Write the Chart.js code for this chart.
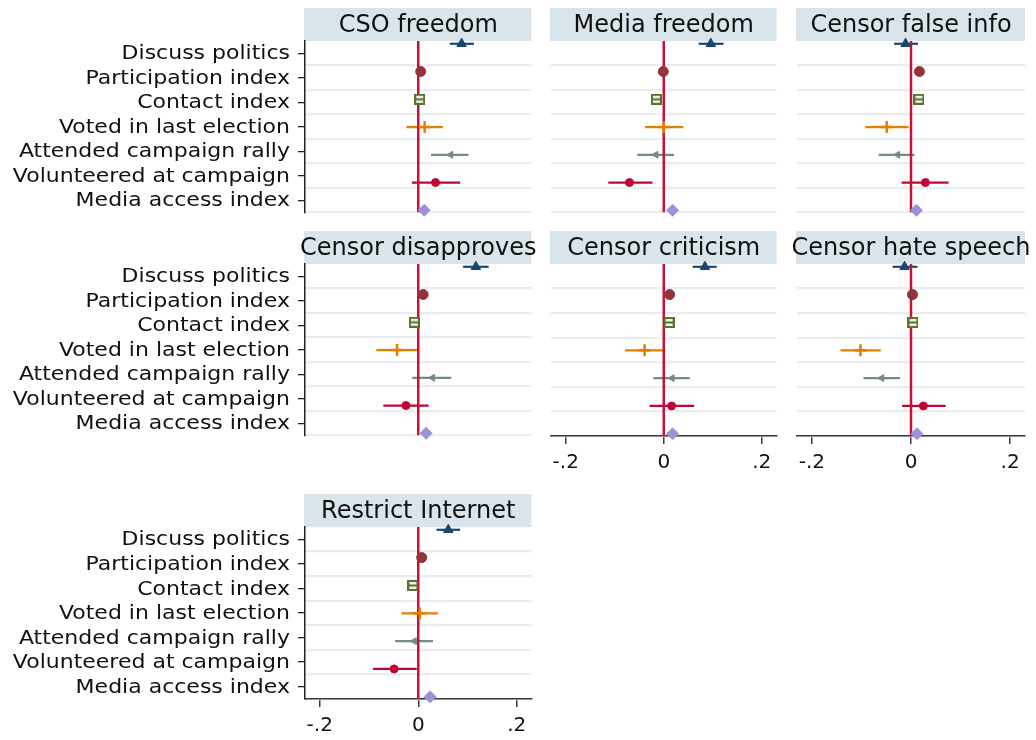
<!DOCTYPE html>
<html>
<head>
<meta charset="utf-8">
<script src="https://cdn.jsdelivr.net/npm/chart.js@4.4.1/dist/chart.umd.min.js"></script>
<style>
  html, body { margin: 0; padding: 0; background: #fff; }
  #wrap { position: relative; width: 1036px; height: 740px; overflow: hidden; background: #fff; }
  #wrap canvas { position: absolute; }
</style>
</head>
<body>
<div id="wrap"></div>
<script>
// ---- data ---------------------------------------------------------------
const categories = [
  'Discuss politics', 'Participation index', 'Contact index',
  'Voted in last election', 'Attended campaign rally',
  'Volunteered at campaign', 'Media access index'
];
const panelTitles = [
  'CSO freedom', 'Media freedom', 'Censor false info',
  'Censor disapproves', 'Censor criticism', 'Censor hate speech',
  'Restrict Internet'
];
const xTickValues = [-0.2, 0, 0.2];
const xTickLabels = ['-.2', '0', '.2'];

// coefficient estimates with lower / upper confidence bounds (order = categories)
const csoB   = [0.088, 0.005, 0.003, 0.013, 0.066, 0.035, 0.012];
const csoLo  = [0.064, 0.001, -0.001, -0.024, 0.026, -0.013, 0.007];
const csoHi  = [0.113, 0.009, 0.007, 0.050, 0.102, 0.085, 0.017];

const mediaB  = [0.096, -0.001, -0.015, 0.000, -0.016, -0.070, 0.018];
const mediaLo = [0.071, -0.005, -0.019, -0.038, -0.054, -0.113, 0.013];
const mediaHi = [0.122, 0.003, -0.011, 0.040, 0.021, -0.023, 0.023];

const falseB  = [-0.011, 0.017, 0.016, -0.049, -0.027, 0.029, 0.011];
const falseLo = [-0.034, 0.013, 0.012, -0.092, -0.065, -0.019, 0.006];
const falseHi = [0.014, 0.021, 0.020, -0.005, 0.007, 0.076, 0.016];

const disapB  = [0.117, 0.010, -0.008, -0.043, 0.029, -0.025, 0.016];
const disapLo = [0.091, 0.006, -0.012, -0.085, -0.012, -0.071, 0.011];
const disapHi = [0.143, 0.014, -0.004, -0.001, 0.067, 0.021, 0.021];

const critB  = [0.084, 0.012, 0.011, -0.039, 0.017, 0.016, 0.018];
const critLo = [0.059, 0.008, 0.007, -0.079, -0.021, -0.029, 0.013];
const critHi = [0.108, 0.016, 0.015, 0.001, 0.053, 0.062, 0.023];

const hateB  = [-0.013, 0.003, 0.004, -0.102, -0.059, 0.025, 0.012];
const hateLo = [-0.037, -0.001, 0.000, -0.142, -0.096, -0.018, 0.007];
const hateHi = [0.013, 0.007, 0.008, -0.061, -0.022, 0.070, 0.017];

const netB  = [0.061, 0.007, -0.011, 0.003, -0.008, -0.049, 0.024];
const netLo = [0.037, 0.003, -0.015, -0.034, -0.047, -0.092, 0.019];
const netHi = [0.085, 0.011, -0.007, 0.040, 0.030, -0.003, 0.029];

// ---- styling ------------------------------------------------------------
const FONT = '"DejaVu Sans", "Liberation Sans", sans-serif';
const seriesColors = ['#1a476f', '#90353b', '#55752f', '#e37e00', '#6e8e84', '#c10534', '#9b93d8'];
const zeroColor = '#c8103a';
const gridColor = '#e6eef0';
const titleFill = '#d9e5eb';
const axisColor = '#3a3a3a';

// hollow square with a bar through it, used for the contact index marker
function squareGlyph(color) {
  const c = document.createElement('canvas');
  c.width = 11; c.height = 11;
  const g = c.getContext('2d');
  g.fillStyle = '#eef3e8';
  g.fillRect(1, 1, 9, 9);
  g.strokeStyle = color;
  g.lineWidth = 2;
  g.strokeRect(1, 1, 9, 9);
  g.beginPath();
  g.moveTo(2, 5.5); g.lineTo(9, 5.5);
  g.stroke();
  return c;
}

const markerStyles = ['triangle', 'circle', squareGlyph(seriesColors[2]), 'cross', 'triangle', 'circle', 'rectRot'];
const markerRadii  = [5.5, 5, 5, 6, 4, 4, 6];
const markerRot    = [0, 0, 0, 0, -90, 0, 0];
const markerBorder = [1, 1, 1, 2.5, 1, 1, 1];

const yMin = 0.9, yMax = 7.08;      // coefficient rows 1..7 (top to bottom)
const xMin = -0.23, xMax = 0.23;
const TITLE_H = 33, PLOT_H = 172, AXIS_H = 46, LABEL_W = 305;

// panel placement on the page
const panels = [
  { title: panelTitles[0], b: csoB,   lo: csoLo,   hi: csoHi,   left: 0,   top: 8,   width: 540, padL: 0,  padR: 8,  labels: true,  axis: false },
  { title: panelTitles[1], b: mediaB, lo: mediaLo, hi: mediaHi, left: 540, top: 8,   width: 245, padL: 11, padR: 7,  labels: false, axis: false },
  { title: panelTitles[2], b: falseB, lo: falseLo, hi: falseHi, left: 785, top: 8,   width: 251, padL: 12, padR: 11, labels: false, axis: false },
  { title: panelTitles[3], b: disapB, lo: disapLo, hi: disapHi, left: 0,   top: 231, width: 540, padL: 0,  padR: 8,  labels: true,  axis: false },
  { title: panelTitles[4], b: critB,  lo: critLo,  hi: critHi,  left: 540, top: 231, width: 245, padL: 11, padR: 7,  labels: false, axis: true },
  { title: panelTitles[5], b: hateB,  lo: hateLo,  hi: hateHi,  left: 785, top: 231, width: 251, padL: 12, padR: 11, labels: false, axis: true },
  { title: panelTitles[6], b: netB,   lo: netLo,   hi: netHi,   left: 0,   top: 494, width: 540, padL: 0,  padR: 8,  labels: true,  axis: true }
];

// title strip above each plot region plus the stretched row labels
const panelDecor = {
  id: 'panelDecor',
  beforeDraw(chart, args, opts) {
    const a = chart.chartArea, ctx = chart.ctx;
    ctx.save();
    ctx.fillStyle = titleFill;
    ctx.fillRect(a.left - 1, a.top - TITLE_H, a.right - a.left + 1, TITLE_H);
    ctx.fillStyle = '#111';
    ctx.font = '24px ' + FONT;
    ctx.textAlign = 'center';
    ctx.textBaseline = 'middle';
    ctx.fillText(opts.title, (a.left + a.right) / 2, a.top - TITLE_H / 2 + 1);
    ctx.restore();
  },
  afterDraw(chart, args, opts) {
    if (!opts.labels) return;
    const s = chart.scales.yl, ctx = chart.ctx;
    ctx.save();
    ctx.fillStyle = '#111';
    ctx.font = '20px ' + FONT;
    ctx.textAlign = 'right';
    ctx.textBaseline = 'middle';
    categories.forEach((lab, i) => {
      ctx.save();
      ctx.translate(s.right - 15, s.getPixelForTick(i) + 1);
      ctx.scale(1.1, 1);
      ctx.fillText(lab, 0, 0);
      ctx.restore();
    });
    ctx.restore();
  }
};

const wrap = document.getElementById('wrap');

panels.forEach(p => {
  const h = TITLE_H + PLOT_H + (p.axis ? AXIS_H : 8);
  const cv = document.createElement('canvas');
  cv.width = p.width; cv.height = h;
  cv.style.left = p.left + 'px';
  cv.style.top = p.top + 'px';
  cv.style.width = p.width + 'px';
  cv.style.height = h + 'px';
  wrap.appendChild(cv);

  const datasets = [];
  // confidence intervals
  categories.forEach((c, i) => {
    datasets.push({
      type: 'scatter', showLine: true,
      data: [{ x: p.lo[i], y: i + 1 }, { x: p.hi[i], y: i + 1 }],
      borderColor: seriesColors[i], borderWidth: 2.2,
      pointRadius: 0, order: 10, clip: false
    });
  });
  // reference line at zero
  datasets.push({
    type: 'scatter', showLine: true,
    data: [{ x: 0, y: yMin }, { x: 0, y: yMax }],
    borderColor: zeroColor, borderWidth: 2.5, pointRadius: 0, order: 5
  });
  // point estimates
  datasets.push({
    type: 'scatter',
    data: p.b.map((v, i) => ({ x: v, y: i + 1 })),
    pointStyle: markerStyles,
    pointRadius: markerRadii,
    pointRotation: markerRot,
    pointBorderWidth: markerBorder,
    pointBackgroundColor: seriesColors,
    pointBorderColor: seriesColors,
    order: 1, clip: false
  });

  new Chart(cv, {
    type: 'scatter',
    data: { datasets },
    plugins: [panelDecor],
    options: {
      responsive: false, animation: false, devicePixelRatio: 1, events: [],
      layout: { padding: { top: TITLE_H, left: p.padL, right: p.padR, bottom: p.axis ? 0 : 8 } },
      plugins: { legend: { display: false }, tooltip: { enabled: false }, panelDecor: { title: p.title, labels: p.labels } },
      scales: {
        x: {
          type: 'linear', min: xMin, max: xMax, display: p.axis, position: 'bottom',
          afterBuildTicks: s => { s.ticks = xTickValues.map(v => ({ value: v })); },
          afterFit: s => { s.height = p.axis ? AXIS_H : 0; },
          border: { display: true, color: axisColor, width: 1.5 },
          grid: { drawOnChartArea: false, drawTicks: true, tickLength: 8, color: axisColor, lineWidth: 1.5 },
          ticks: { color: '#111', padding: 7, font: { family: FONT, size: 20 }, maxRotation: 0,
                   callback: (v, i) => xTickLabels[i] }
        },
        y: { type: 'linear', min: yMin, max: yMax, reverse: true, display: false,
             afterFit: s => { s.width = 0; } },
        yl: {
          type: 'category', axis: 'y', position: 'left', labels: categories, offset: true,
          display: p.labels,
          afterFit: s => { s.width = p.labels ? LABEL_W : 0; },
          border: { display: true, color: '#222', width: 1.5 },
          grid: { offset: false, drawOnChartArea: false, drawTicks: true, tickLength: 7, color: '#222', lineWidth: 1.3 },
          ticks: { display: false }
        },
        yg: {
          type: 'category', axis: 'y', position: 'left', labels: categories, offset: true,
          afterFit: s => { s.width = 0; },
          border: { display: false },
          grid: {
            offset: true, drawTicks: false, lineWidth: 2.2,
            color: ctx => (ctx.index === 0 || ctx.index === categories.length) ? 'rgba(0,0,0,0)' : gridColor
          },
          ticks: { display: false }
        }
      }
    }
  });
});
</script>
</body>
</html>
